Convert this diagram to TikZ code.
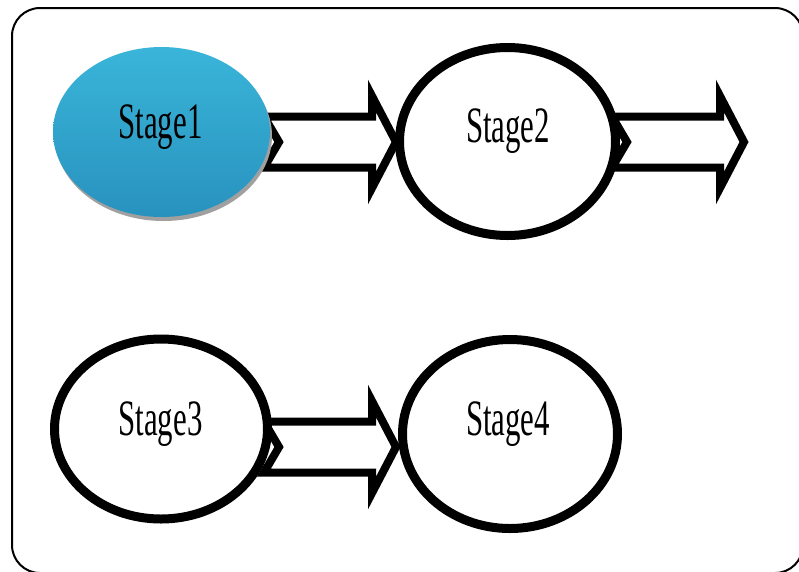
\documentclass[tikz,border=0pt]{standalone}
\usepackage{graphicx}
\usepackage{fontspec}
\setmainfont{Liberation Serif}
\usetikzlibrary{shapes.geometric,calc}

\definecolor{stageblueTop}{RGB}{58,181,217}
\definecolor{stageblueBot}{RGB}{40,146,190}
\definecolor{shadowgray}{RGB}{160,160,160}

\tikzset{
  stage/.style={ellipse, draw=black, line width=9pt, fill=white, inner sep=0pt},
  stagelabel/.style={anchor=base, inner sep=0pt, font=\fontsize{51}{51}\selectfont},
  arrowline/.style={draw=black, line width=8pt, fill=white, line join=miter, miter limit=10},
  pics/blockarrow/.style={code={
    \path[arrowline] (0,-25.5) -- (108,-25.5) -- (108,-46) -- (132,0)
      -- (108,46) -- (108,25.5) -- (0,25.5) -- (15,0) -- cycle;
  }}
}
\newcommand\stagetext[1]{\scalebox{0.605}[1]{#1}}

\begin{document}
\begin{tikzpicture}[x=1pt,y=-1pt]
\useasboundingbox (0,0) rectangle (799,571);
\clip (0,0) rectangle (799,571);

% frame
\draw[line width=2pt, rounded corners=28pt] (12,8) rectangle (803,573);

% block arrows, drawn first so the stages sit on top of their tails
\coordinate (a1) at (264,142);
\coordinate (a2) at (612,142);
\coordinate (a3) at (264,447);
\pic at (a1) {blockarrow};
\pic at (a2) {blockarrow};
\pic at (a3) {blockarrow};

% Stage 1: shaded ellipse with a soft drop shadow
\node[ellipse, inner sep=0pt, minimum width=217pt, minimum height=170pt,
      fill=shadowgray] (s1shadow) at (163.5,136) {};
\node[ellipse, inner sep=0pt, minimum width=217pt, minimum height=170pt,
      top color=stageblueTop, bottom color=stageblueBot] (s1) at (161.5,132) {};

% Stages 2-4
\node[stage, minimum width=216pt, minimum height=188pt] (s2) at (507.5,141.5) {};
\node[stage, minimum width=213pt, minimum height=180pt] (s3) at (161,429) {};
\node[stage, minimum width=215pt, minimum height=189pt] (s4) at (510,434) {};

% labels
\node[stagelabel] (t1) at (160.5,138) {\stagetext{Stage1}};
\node[stagelabel] (t2) at (508,142) {\stagetext{Stage2}};
\node[stagelabel] (t3) at (160.5,435) {\stagetext{Stage3}};
\node[stagelabel] (t4) at (508,435) {\stagetext{Stage4}};
\end{tikzpicture}
\end{document}
